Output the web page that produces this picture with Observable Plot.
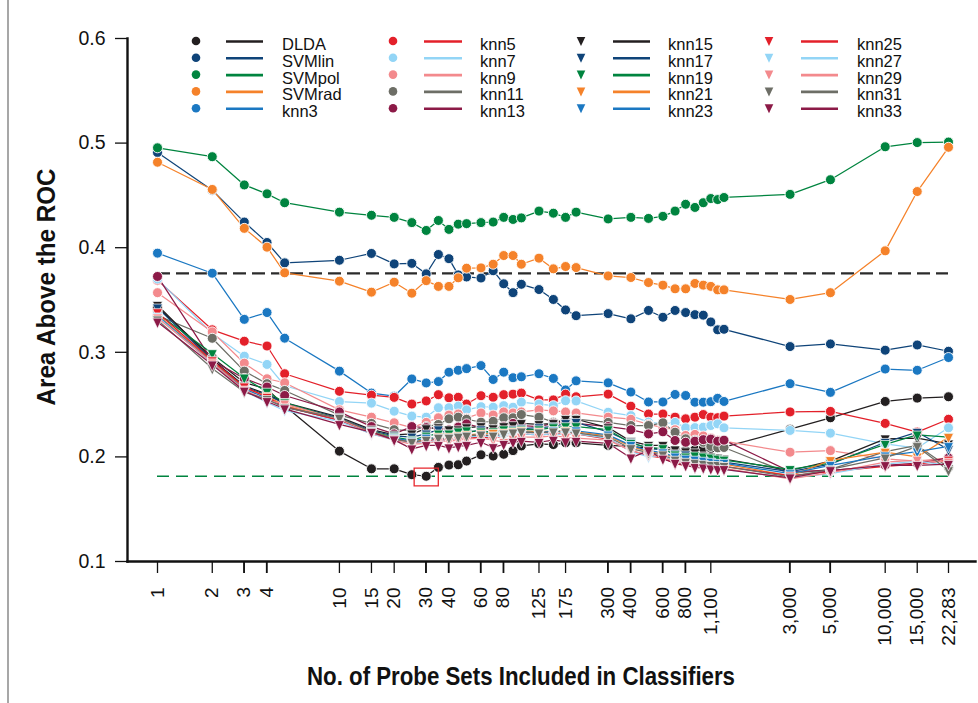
<!DOCTYPE html>
<html><head><meta charset="utf-8">
<script src="https://cdn.jsdelivr.net/npm/d3@7"></script>
<script src="https://cdn.jsdelivr.net/npm/@observablehq/plot@0.6"></script>
<style>
body{margin:0;background:#fff;}
#wrap{position:relative;width:978px;height:703px;overflow:hidden;}
</style></head><body><div id="wrap"></div>
<script>
// ---------- DATA ----------
const probeSets = [1,2,3,4,5,10,15,20,25,30,35,40,45,50,60,70,80,90,100,125,150,175,200,300,400,500,600,700,800,900,1000,1100,1200,1300,3000,5000,10000,15000,22283];
const xTickValues = [1,2,3,4,10,15,20,30,40,60,80,125,175,300,400,600,800,1100,3000,5000,10000,15000,22283];
const yTickValues = [0.1,0.2,0.3,0.4,0.5,0.6];
const refValues = [0.3755, 0.1815];

const DLDA   = [0.343,0.295,0.271,0.265,0.249, 0.2055,0.1886,0.1886,0.1830,0.1815,0.1900,0.1922,0.1925,0.1960, 0.2020,0.2008,0.2025,0.2060,0.2105, 0.2125,0.2118,0.2135,0.2135, 0.2110,0.2100,0.2085,0.2075,0.2065,0.2060,0.2070,0.2080,0.2080,0.2090,0.2093, 0.2265,0.2374,0.2530,0.2562,0.2575];
const SVMlin = [0.491,0.455,0.4245,0.405,0.3855, 0.388,0.3945,0.3845,0.385,0.375,0.3935,0.3895,0.374,0.372, 0.371,0.378,0.3655,0.357,0.365, 0.360,0.3505,0.3405,0.335, 0.337,0.332,0.340,0.3335,0.340,0.338,0.336,0.3355,0.329,0.3215,0.322, 0.3055,0.308,0.302,0.307,0.301];
const SVMpol = [0.4955,0.487,0.460,0.4515,0.443, 0.434,0.431,0.429,0.424,0.4165,0.426,0.4175,0.4225,0.423, 0.424,0.4245,0.429,0.427,0.4285, 0.435,0.433,0.429,0.434, 0.4275,0.429,0.428,0.430,0.435,0.4415,0.4385,0.443,0.447,0.446,0.448, 0.451,0.465,0.4965,0.5005,0.501];
const SVMrad = [0.4817,0.4557,0.4185,0.4005,0.376, 0.368,0.3575,0.367,0.3565,0.3685,0.363,0.363,0.3712,0.3804, 0.3807,0.3842,0.3925,0.3925,0.3842, 0.390,0.3798,0.382,0.381, 0.373,0.3715,0.3667,0.3642,0.3607,0.3607,0.3658,0.3642,0.363,0.3597,0.3597, 0.3505,0.357,0.397,0.4537,0.496];
const knn3  = [0.3948,0.3756,0.3315,0.338,0.3135, 0.282,0.261,0.258,0.2745,0.2707,0.272,0.281,0.2828,0.2844, 0.2873,0.274,0.281,0.2757,0.2766, 0.2795,0.275,0.264,0.2727, 0.2708,0.262,0.2525,0.2525,0.2597,0.2587,0.2523,0.2523,0.2528,0.2560,0.2530, 0.270,0.2617,0.284,0.2828,0.295];
const knn5  = [0.369,0.3215,0.3106,0.306,0.2795, 0.2627,0.259,0.2569,0.2505,0.2535,0.2595,0.2565,0.257,0.2505, 0.2585,0.257,0.2595,0.260,0.261, 0.2545,0.2545,0.260,0.2575, 0.260,0.2485,0.241,0.241,0.238,0.2364,0.238,0.2405,0.238,0.2375,0.239, 0.243,0.2435,0.232,0.2237,0.236];
const knn7  = [0.370,0.318,0.2963,0.2884,0.268, 0.2529,0.2514,0.2437,0.239,0.238,0.247,0.247,0.2485,0.245, 0.248,0.2475,0.249,0.2475,0.2523, 0.2505,0.249,0.2537,0.2535, 0.2427,0.2395,0.2332,0.2316,0.2330,0.2278,0.2280,0.2284,0.2300,0.2316,0.2278, 0.2253,0.2227,0.2125,0.2085,0.2278];
const knn9  = [0.357,0.3195,0.2896,0.2747,0.2709, 0.245,0.238,0.2326,0.228,0.233,0.2374,0.240,0.241,0.237, 0.242,0.240,0.243,0.242,0.243, 0.245,0.244,0.243,0.242, 0.238,0.236,0.231,0.228,0.226,0.2205,0.2215,0.220,0.218,0.216,0.215, 0.2045,0.206,0.198,0.196,0.199];
const knn11 = [0.335,0.3134,0.282,0.270,0.2635, 0.240,0.232,0.226,0.225,0.229,0.231,0.2364,0.238,0.236, 0.2332,0.234,0.2374,0.2374,0.2405, 0.238,0.2332,0.235,0.236, 0.233,0.230,0.230,0.2326,0.2236,0.2173,0.216,0.214,0.2100,0.2087,0.2090, 0.184,0.188,0.205,0.211,0.190];
const knn13 = [0.3725,0.292,0.275,0.2668,0.2587, 0.243,0.229,0.222,0.229,0.228,0.227,0.226,0.2285,0.2316, 0.228,0.226,0.229,0.232,0.230, 0.229,0.232,0.233,0.232, 0.229,0.226,0.222,0.224,0.2157,0.214,0.215,0.2165,0.217,0.215,0.216, 0.186,0.187,0.192,0.194,0.199];
const knn15 = [0.345,0.293,0.268,0.260,0.252, 0.238,0.226,0.221,0.222,0.227,0.228,0.226,0.226,0.228, 0.229,0.227,0.229,0.230,0.232, 0.231,0.232,0.236,0.236, 0.228,0.215,0.211,0.211,0.2068,0.205,0.204,0.201,0.200,0.199,0.198, 0.187,0.196,0.2173,0.218,0.2125];
const knn17 = [0.3425,0.292,0.267,0.259,0.251, 0.237,0.225,0.220,0.219,0.222,0.226,0.222,0.223,0.223, 0.226,0.222,0.224,0.226,0.227, 0.228,0.229,0.232,0.233, 0.224,0.214,0.208,0.207,0.203,0.202,0.200,0.198,0.197,0.196,0.195, 0.186,0.193,0.214,0.2236,0.207];
const knn19 = [0.337,0.2988,0.2755,0.262,0.252, 0.236,0.224,0.219,0.216,0.220,0.222,0.222,0.224,0.225, 0.224,0.224,0.226,0.225,0.226, 0.226,0.228,0.229,0.229, 0.226,0.213,0.209,0.208,0.202,0.200,0.201,0.200,0.199,0.198,0.197, 0.188,0.194,0.212,0.221,0.219];
const knn21 = [0.336,0.291,0.266,0.258,0.249, 0.236,0.224,0.218,0.214,0.217,0.219,0.219,0.220,0.221, 0.222,0.2225,0.223,0.224,0.225, 0.224,0.225,0.225,0.224, 0.220,0.210,0.205,0.203,0.199,0.196,0.196,0.194,0.194,0.193,0.193, 0.182,0.1966,0.2045,0.200,0.2188];
const knn23 = [0.335,0.290,0.265,0.256,0.248, 0.235,0.223,0.218,0.215,0.218,0.218,0.218,0.219,0.220, 0.221,0.220,0.222,0.223,0.224, 0.223,0.225,0.224,0.225, 0.221,0.211,0.206,0.204,0.200,0.198,0.197,0.196,0.195,0.194,0.194, 0.184,0.192,0.201,0.205,0.210];
const knn25 = [0.338,0.292,0.267,0.257,0.248, 0.235,0.222,0.217,0.213,0.215,0.217,0.216,0.217,0.218, 0.219,0.218,0.220,0.221,0.222, 0.221,0.222,0.222,0.222, 0.217,0.206,0.201,0.199,0.1934,0.192,0.193,0.192,0.192,0.191,0.191, 0.182,0.186,0.191,0.193,0.197];
const knn27 = [0.334,0.289,0.263,0.252,0.2443, 0.234,0.222,0.216,0.213,0.214,0.216,0.216,0.218,0.219, 0.220,0.219,0.220,0.221,0.222, 0.221,0.222,0.221,0.222, 0.218,0.205,0.200,0.2013,0.196,0.194,0.193,0.190,0.189,0.189,0.188, 0.180,0.184,0.193,0.196,0.192];
const knn29 = [0.333,0.290,0.264,0.254,0.2506, 0.236,0.223,0.216,0.212,0.213,0.215,0.215,0.216,0.217, 0.218,0.216,0.214,0.217,0.219, 0.219,0.220,0.219,0.218, 0.216,0.206,0.202,0.200,0.195,0.193,0.191,0.190,0.190,0.189,0.189, 0.179,0.185,0.195,0.197,0.195];
const knn31 = [0.331,0.2845,0.262,0.255,0.247, 0.237,0.224,0.217,0.214,0.216,0.218,0.218,0.219,0.220, 0.221,0.220,0.222,0.223,0.224, 0.223,0.224,0.224,0.223, 0.219,0.208,0.204,0.202,0.197,0.195,0.194,0.193,0.192,0.192,0.191, 0.181,0.188,0.199,0.210,0.187];
const knn33 = [0.329,0.288,0.263,0.253,0.246, 0.231,0.2236,0.2163,0.2077,0.211,0.211,0.2087,0.210,0.211, 0.214,0.209,0.212,0.214,0.215, 0.214,0.216,0.2145,0.215, 0.213,0.199,0.206,0.198,0.194,0.1918,0.190,0.1895,0.1886,0.188,0.188, 0.180,0.187,0.1918,0.192,0.193];

const seriesNames = ["DLDA","SVMlin","SVMpol","SVMrad","knn3","knn5","knn7","knn9","knn11","knn13",
                     "knn15","knn17","knn19","knn21","knn23","knn25","knn27","knn29","knn31","knn33"];
const seriesValues = [DLDA,SVMlin,SVMpol,SVMrad,knn3,knn5,knn7,knn9,knn11,knn13,
                      knn15,knn17,knn19,knn21,knn23,knn25,knn27,knn29,knn31,knn33];
const palette = ["#231f20","#0f4479","#00843f","#f5822a","#1b78c2","#e3202a","#93d5f6","#f38a8d","#6d6e66","#8c1a47"];

// ---------- BUILD ----------
const rows = [];
seriesNames.forEach((name, i) => probeSets.forEach((x, j) => rows.push({name, i, x, y: seriesValues[i][j], color: palette[i % 10]})));
const circles = rows.filter(d => d.i < 10);
const triangles = rows.filter(d => d.i >= 10);
const best = d3.least(rows.filter(d => d.name === "DLDA"), d => d.y);

const triDown = {draw(ctx, size) {
  const r = Math.sqrt(size / Math.PI);
  ctx.moveTo(-r * 1.1, -r * 0.85);
  ctx.lineTo(r * 1.1, -r * 0.85);
  ctx.lineTo(0, r * 1.45);
  ctx.closePath();
}};
const boxSym = {draw(ctx, size) {
  const r = Math.sqrt(size / Math.PI);
  ctx.rect(-r * 1.15, -r * 0.78, r * 2.3, r * 1.7);
}};

const FONT = "'Liberation Sans', Arial, Helvetica, sans-serif";
const fmtX = d3.format(",");

const chart = Plot.plot({
  width: 978, height: 703,
  marginLeft: 127, marginRight: 3, marginTop: 38, marginBottom: 142,
  style: {fontFamily: FONT, background: "#fff", color: "#111"},
  x: {type: "log", domain: [1, 22283], range: [157, 948]},
  y: {domain: [0.1, 0.6]},
  marks: [
    Plot.ruleY([refValues[0]], {x1: probeSets[0], x2: probeSets[probeSets.length - 1], stroke: "#2b2b2b", strokeWidth: 2.1, strokeDasharray: "13,6"}),
    Plot.ruleY([refValues[1]], {x1: probeSets[0], x2: probeSets[probeSets.length - 1], stroke: "#00843f", strokeWidth: 1.6, strokeDasharray: "12,7"}),
    Plot.line(rows, {x: "x", y: "y", z: "name", stroke: "color", strokeWidth: 1.25}),
    Plot.dot(circles, {x: "x", y: "y", fill: "color", stroke: "#fff", strokeWidth: 0.9, r: 5}),
    Plot.dot(triangles, {x: "x", y: "y", fill: "color", stroke: "#fff", strokeWidth: 0.7, r: 4.5, symbol: triDown}),
    Plot.dot([best], {x: "x", y: "y", symbol: boxSym, r: 10.5, fill: "none", stroke: "#e8262d", strokeWidth: 1.3}),
    Plot.axisX(xTickValues, {tickFormat: fmtX, tickRotate: -90, tickSize: 12, tickPadding: 14, fontSize: 19, label: null, strokeWidth: 1.3}),
    Plot.axisY(yTickValues, {tickFormat: d3.format(".1f"), tickSize: 12, tickPadding: 10, fontSize: 19.5, label: null, strokeWidth: 1.3}),
    Plot.frame({anchor: "left", strokeWidth: 2.4}),
    Plot.frame({anchor: "bottom", strokeWidth: 2.4})
  ]
});
document.getElementById("wrap").appendChild(chart);

// ---------- ANNOTATIONS ----------
const svg = d3.select(chart);
const xs = chart.scale("x");

// fallback: make sure every requested x tick & label exists (drawn through Plot's own x scale)
const shown = new Set();
svg.selectAll("g[aria-label='x-axis tick label'] text").each(function() { shown.add(this.textContent.trim()); });
const missing = xTickValues.filter(v => !shown.has(fmtX(v)));
if (missing.length) {
  const g = svg.append("g").attr("font-family", FONT).attr("font-size", 19).attr("fill", "#111");
  missing.forEach(v => {
    const px = xs.apply(v);
    g.append("line").attr("x1", px).attr("x2", px).attr("y1", 561).attr("y2", 573).attr("stroke", "#111").attr("stroke-width", 1.3);
    g.append("text").text(fmtX(v)).attr("transform", `translate(${px},587) rotate(-90)`)
      .attr("text-anchor", "end").attr("dy", "0.32em");
  });
}

svg.append("line").attr("x1", 8).attr("x2", 8).attr("y1", 0).attr("y2", 703)
  .attr("stroke", "#8a8a8a").attr("stroke-width", 1.5);

svg.append("text").text("No. of Probe Sets Included in Classifiers")
  .attr("x", 521).attr("y", 685).attr("text-anchor", "middle")
  .attr("font-family", FONT).attr("font-weight", "bold").attr("font-size", 25)
  .attr("textLength", 428).attr("lengthAdjust", "spacingAndGlyphs").attr("fill", "#111");

svg.append("text").text("Area Above the ROC")
  .attr("transform", "translate(55,287) rotate(-90)").attr("text-anchor", "middle")
  .attr("font-family", FONT).attr("font-weight", "bold").attr("font-size", 25)
  .attr("textLength", 237).attr("lengthAdjust", "spacingAndGlyphs").attr("fill", "#111");

const colMarker = [196, 393, 581, 769], colLine0 = [226, 424, 613, 801], colLine1 = [263, 462, 650, 838], colText = [282, 480, 668, 857];
const leg = svg.append("g").attr("font-family", FONT).attr("font-size", 16.5).attr("text-anchor", "start");
seriesNames.forEach((name, i) => {
  const c = Math.floor(i / 5), r = i % 5, y = 41 + r * 16.8;
  const color = palette[i % 10];
  const g = leg.append("g");
  if (i < 10) g.append("circle").attr("cx", colMarker[c]).attr("cy", y).attr("r", 4.3).attr("fill", color);
  else g.append("path").attr("d", `M${colMarker[c]-4.3},${y-4} L${colMarker[c]+4.3},${y-4} L${colMarker[c]},${y+5} Z`).attr("fill", color);
  g.append("line").attr("x1", colLine0[c]).attr("x2", colLine1[c]).attr("y1", y + 0.5).attr("y2", y + 0.5)
    .attr("stroke", color).attr("stroke-width", 2.6);
  g.append("text").text(name).attr("x", colText[c]).attr("y", y + 9).attr("text-anchor", "start").attr("fill", "#111");
});
</script></body></html>
